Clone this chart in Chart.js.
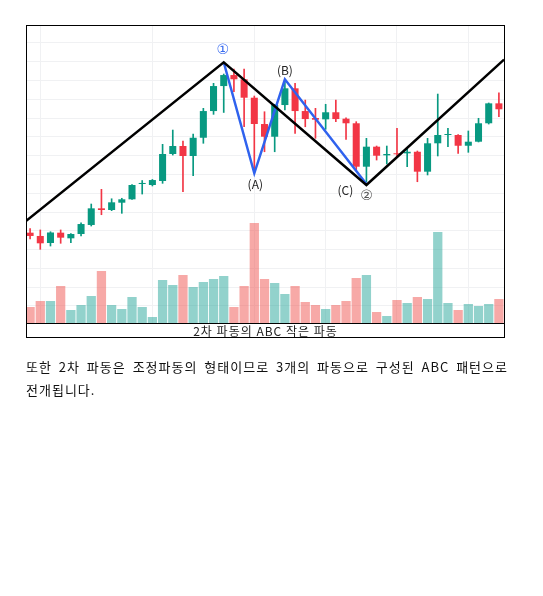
<!DOCTYPE html>
<html>
<head>
<meta charset="utf-8">
<script src="https://cdn.jsdelivr.net/npm/chart.js@4.4.1/dist/chart.umd.min.js"></script>
<style>
  body { margin: 0; background: #fff; width: 543px; height: 596px; position: relative; font-family: "Noto Sans CJK KR", sans-serif; }
  #box { position: absolute; left: 26px; top: 25px; width: 477px; height: 311px; border: 1px solid #000; overflow: hidden; }
  #plot { position: absolute; left: -2px; top: 0; width: 479px; height: 297px; }
  #caption { position: absolute; left: 0; right: 0; top: 297px; height: 14px; border-top: 1px solid #000; font-size: 12px; letter-spacing: 1px; line-height: 14px; text-align: center; color: #222; }
  #text { position: absolute; left: 26px; top: 355px; width: 482px; margin: 0; font-size: 13px; letter-spacing: 1px; line-height: 23px; text-align: justify; word-break: keep-all; color: #111; }
</style>
</head>
<body>
<div id="box">
  <div id="plot"><canvas id="chart"></canvas></div>
  <div id="caption">2차 파동의 ABC 작은 파동</div>
</div>
<p id="text">또한 2차 파동은 조정파동의 형태이므로 3개의 파동으로 구성된 ABC 패턴으로 전개됩니다.</p>
<script>
// Candle data (price units), one entry per session
const opens = [178.0, 174.5, 167.0, 178.0, 172.0, 176.6, 186.2, 203.9, 202.1, 209.9,
  213.5, 229.8, 228.7, 233.0, 261.7, 270.2, 259.6, 279.0, 307.4, 334.0,
  345.7, 341.2, 321.6, 293.6, 280.1, 313.8, 331.6, 307.4, 300.0, 298.6,
  306.1, 299.3, 294.4, 248.2, 269.5, 260.3, 262.4, 262.4, 264.1, 242.9,
  273.1, 281.9, 281.9, 270.5, 274.8, 294.4, 315.6];
const highs = [182.4, 180.9, 179.0, 180.9, 177.1, 188.6, 208.5, 224.1, 214.1, 214.6,
  229.3, 233.5, 234.6, 272.0, 287.2, 275.5, 283.0, 310.3, 336.9, 346.8,
  352.1, 352.1, 323.4, 306.7, 314.6, 340.4, 336.9, 319.1, 310.3, 314.6,
  319.1, 300.3, 296.1, 278.4, 270.2, 270.2, 289.0, 267.8, 264.9, 278.4,
  325.5, 289.0, 282.4, 286.2, 299.7, 316.0, 326.9];
const lows = [171.3, 160.3, 163.8, 166.7, 167.3, 174.5, 185.1, 197.1, 201.4, 198.6,
  213.3, 219.1, 227.7, 230.5, 260.6, 221.6, 238.6, 273.1, 303.9, 305.9,
  328.0, 290.7, 241.5, 264.1, 264.1, 308.5, 283.7, 290.7, 278.4, 288.0,
  296.1, 277.3, 244.7, 232.2, 255.3, 251.1, 259.6, 248.2, 232.2, 239.4,
  259.6, 269.5, 262.4, 263.5, 274.5, 293.6, 301.4];
const closes = [174.5, 166.7, 178.2, 172.7, 176.6, 187.2, 203.9, 202.1, 210.3, 213.5,
  228.7, 230.9, 234.0, 261.7, 270.2, 259.6, 279.0, 307.4, 334.0, 345.7,
  341.2, 321.6, 293.6, 280.1, 313.8, 331.6, 307.4, 298.9, 298.2, 306.1,
  298.9, 294.4, 248.2, 269.5, 259.9, 261.7, 261.4, 264.1, 242.9, 273.1,
  281.9, 282.7, 270.5, 274.8, 294.4, 315.6, 309.3];
const volumes = [16, 22, 22, 37, 13, 18, 27, 52, 18, 14,
  26, 16, 6, 43, 38, 48, 36, 41, 44, 47,
  16, 37, 100, 44, 40, 29, 37, 21, 18, 14,
  18, 22, 45, 48, 11, 7, 23, 20, 26, 24,
  91, 20, 13, 19, 17, 19, 24];
const sessions = opens.map((_, i) => String(i + 1));

// Sessions that carry a vertical grid line
const gridSessions = [1, 12, 22, 29, 36, 43];

// Elliott wave outlines: session index and price of each turn
const waveX = [-0.5, 19, 33, 46.5];
const waveY = [189.6, 359.3, 228.7, 362.2];
const abcX = [19, 22, 25, 33];
const abcY = [359.3, 241.2, 341.2, 229.8];

// Wave labels
const markTexts = ["①", "(A)", "(B)", "(C)", "②"];
const markX = [19, 22, 25, 33, 33];
const markY = [359.3, 241.2, 341.2, 229.8, 229.8];

const colors = {
  up: "#089981",
  down: "#f23645",
  volUp: "rgba(38, 166, 154, 0.5)",
  volDown: "rgba(239, 83, 80, 0.5)",
  grid: "#f0f1f3",
  wave: "#000000",
  abc: "#2f62ee",
};

const isUp = opens.map((o, i) => closes[i] >= o);
const candleColor = isUp.map((u) => (u ? colors.up : colors.down));
const volColor = isUp.map((u) => (u ? colors.volUp : colors.volDown));

// Label offsets (px) from the anchor point
const markStyle = [
  { dx: -1, dy: -12, color: "#3a6cf0", font: "14px 'DejaVu Sans'" },
  { dx: 1, dy: 11, color: "#222", font: "12px 'Noto Sans CJK KR'" },
  { dx: 0, dy: -9, color: "#222", font: "12px 'Noto Sans CJK KR'" },
  { dx: -21, dy: 6, color: "#222", font: "12px 'Noto Sans CJK KR'" },
  { dx: 0, dy: 12, color: "#555", font: "14px 'DejaVu Sans'" },
];

const waveLabels = {
  id: "waveLabels",
  afterDatasetsDraw(chart) {
    const ctx = chart.ctx;
    const xs = chart.scales.x2;
    const ys = chart.scales.y;
    ctx.save();
    ctx.textAlign = "center";
    ctx.textBaseline = "middle";
    markTexts.forEach((t, i) => {
      const s = markStyle[i];
      ctx.font = s.font;
      ctx.fillStyle = s.color;
      ctx.fillText(t, xs.getPixelForValue(markX[i]) + s.dx, ys.getPixelForValue(markY[i]) + s.dy);
    });
    ctx.restore();
  },
};

const ctx = document.getElementById("chart").getContext("2d");

new Chart(ctx, {
  type: "bar",
  data: {
    labels: sessions,
    datasets: [
      {
        type: "line",
        label: "Wave",
        xAxisID: "x2",
        data: waveX.map((x, i) => ({ x: x, y: waveY[i] })),
        borderColor: colors.wave,
        borderWidth: 2.5,
        pointRadius: 0,
        tension: 0,
        order: 0,
      },
      {
        type: "line",
        label: "ABC",
        xAxisID: "x2",
        data: abcX.map((x, i) => ({ x: x, y: abcY[i] })),
        borderColor: colors.abc,
        borderWidth: 2.5,
        pointRadius: 0,
        tension: 0,
        order: 0,
      },
      {
        label: "Body",
        data: opens.map((o, i) => [o, closes[i]]),
        backgroundColor: candleColor,
        barPercentage: 0.69,
        categoryPercentage: 1,
        minBarLength: 1,
        grouped: false,
        order: 1,
      },
      {
        label: "Wick",
        data: lows.map((l, i) => [l, highs[i]]),
        backgroundColor: candleColor,
        barThickness: 1,
        grouped: false,
        order: 2,
      },
      {
        label: "Volume",
        yAxisID: "yVol",
        data: volumes,
        backgroundColor: volColor,
        barPercentage: 0.91,
        categoryPercentage: 1,
        grouped: false,
        order: 3,
      },
    ],
  },
  options: {
    responsive: true,
    maintainAspectRatio: false,
    animation: false,
    layout: { padding: 0 },
    scales: {
      x: {
        ticks: { display: false },
        border: { display: false },
        grid: {
          offset: false,
          drawTicks: false,
          color: (c) => (gridSessions.includes(c.index) ? colors.grid : "transparent"),
        },
      },
      x2: {
        type: "linear",
        display: false,
        offset: false,
        min: -0.5,
        max: 46.5,
      },
      y: {
        min: 81.9,
        max: 397.9,
        ticks: { display: false, stepSize: 20, includeBounds: false },
        border: { display: false },
        grid: { drawTicks: false, color: colors.grid },
      },
      yVol: {
        display: false,
        min: 0,
        max: 297,
      },
    },
    plugins: {
      legend: { display: false },
      tooltip: { enabled: false },
    },
  },
  plugins: [waveLabels],
});
</script>
</body>
</html>
